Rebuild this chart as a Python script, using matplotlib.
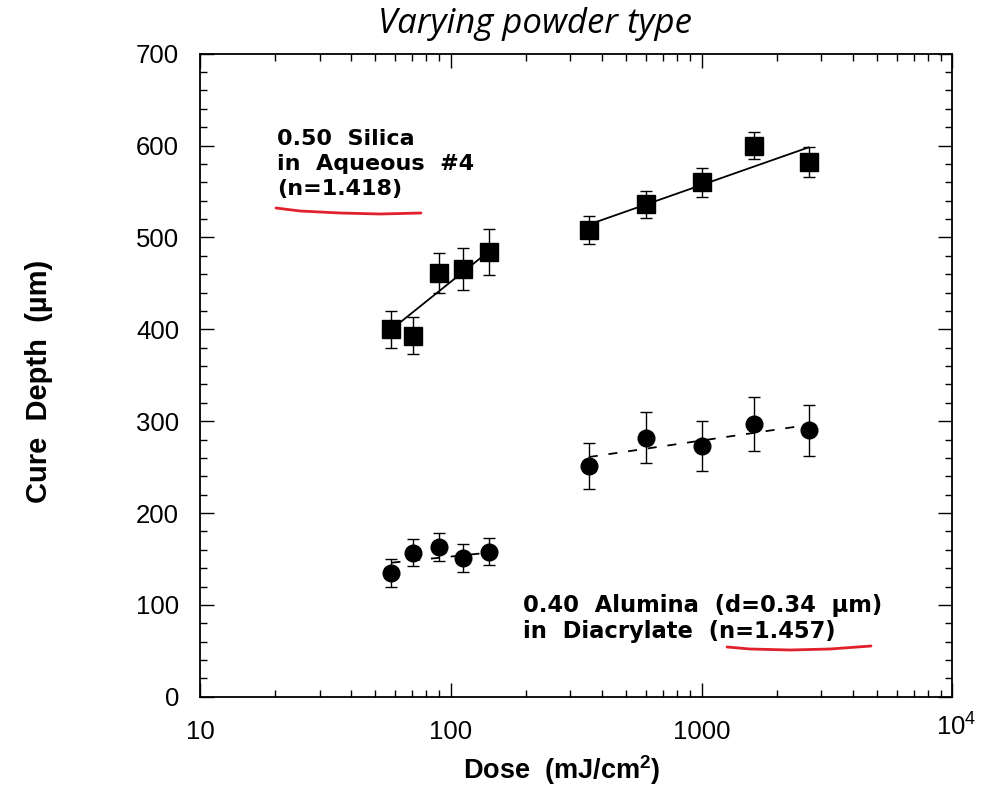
import numpy as np
import matplotlib
matplotlib.use('Agg')
import matplotlib.pyplot as plt
import matplotlib.transforms as mtransforms
from matplotlib.ticker import FixedLocator, FixedFormatter, MultipleLocator, NullFormatter

plt.rcParams['font.family'] = ['Liberation Sans', 'DejaVu Sans']
plt.rcParams['mathtext.fontset'] = 'custom'
plt.rcParams['mathtext.rm'] = 'Liberation Sans'
plt.rcParams['mathtext.bf'] = 'Liberation Sans:bold'

# doses (mJ/cm2)
dose_low = [58, 70.5, 90, 112, 142]
dose_high = [355, 598, 1000, 1625, 2670]

# 0.50 silica in aqueous #4 (squares)
silica_low = [400, 393, 461, 466, 484]
silica_low_err = [20, 20, 22, 23, 25]
silica_high = [508, 536, 560, 600, 582]
silica_high_err = [15, 15, 16, 15, 16]
silica_fit_low = [400, 485]
silica_fit_high = [514, 598]

# 0.40 alumina in diacrylate (circles)
alumina_low = [135, 157, 163, 151, 158]
alumina_low_err = [15, 15, 15, 15, 15]
alumina_high = [251, 282, 273, 297, 290]
alumina_high_err = [25, 28, 27, 29, 28]
alumina_fit_low = [146, 157]
alumina_fit_high = [261, 296]

xticks = [10, 100, 1000, 10000]
xticklabels = ['10', '100', '1000', '$10^4$']

fig = plt.figure(figsize=(9.9, 8.01), dpi=100)
ax = fig.add_axes([0.202, 0.130, 0.760, 0.803])

ekw = dict(fmt='none', ecolor='black', elinewidth=1.0, capsize=4, capthick=1.0)
ax.errorbar(dose_low, silica_low, yerr=silica_low_err, **ekw)
ax.errorbar(dose_high, silica_high, yerr=silica_high_err, **ekw)
ax.errorbar(dose_low, alumina_low, yerr=alumina_low_err, **ekw)
ax.errorbar(dose_high, alumina_high, yerr=alumina_high_err, **ekw)

ax.plot([dose_low[0], dose_low[-1]], silica_fit_low, color='black', lw=1.3)
ax.plot([dose_high[0], dose_high[-1]], silica_fit_high, color='black', lw=1.3)
ax.plot([dose_low[0], dose_low[-1]], alumina_fit_low, color='black', lw=1.3, ls=(0, (5, 6)))
ax.plot([dose_high[0], dose_high[-1]], alumina_fit_high, color='black', lw=1.3, ls=(0, (5, 6)))

ax.plot(dose_low + dose_high, silica_low + silica_high, 's', color='black', ms=12.5)
ax.plot(dose_low + dose_high, alumina_low + alumina_high, 'o', color='black', ms=12)

ax.set_xscale('log')
ax.set_xlim(10, 10000)
ax.set_ylim(0, 700)
ax.xaxis.set_major_locator(FixedLocator(xticks))
ax.xaxis.set_major_formatter(FixedFormatter(xticklabels))
ax.xaxis.set_minor_formatter(NullFormatter())
ax.yaxis.set_major_locator(MultipleLocator(100))
ax.yaxis.set_minor_locator(MultipleLocator(20))
ax.tick_params(which='both', direction='in', top=True, right=True, width=1.0)
ax.tick_params(which='major', length=10, labelsize=18.5)
ax.tick_params(which='minor', length=5)
ax.tick_params(axis='x', pad=17)
ax.tick_params(axis='y', pad=15)
for s in ax.spines.values():
    s.set_linewidth(1.3)

ax.set_ylabel('Cure  Depth  (\u00b5m)', fontsize=21, fontweight='bold')
ax.yaxis.set_label_coords(-0.195, 0.49)
ax.set_xlabel('Dose  (mJ/cm$^\\mathbf{2}$)', fontsize=19.5, fontweight='bold')
ax.xaxis.set_label_coords(0.481, -0.088)

ax.text(20.3, 618, '0.50  Silica\nin  Aqueous  #4\n(n=1.418)', fontsize=16,
        fontweight='bold', family='DejaVu Sans', va='top', ha='left', linespacing=1.32)
ax.text(194, 112, '0.40  Alumina  (d=0.34  \u00b5m)\nin  Diacrylate  (n=1.457)', fontsize=16.3,
        fontweight='bold', family='DejaVu Sans', va='top', ha='left', linespacing=1.15)

fig.text(0.540, 1 - 33 / 801, 'Varying powder type', fontsize=25, style='italic',
         family='Open Sans', ha='center', va='baseline')

# hand-drawn red underlines (figure pixel coords)
u1x = [276, 300, 340, 380, 421]
u1y = [208, 211, 213, 214, 213]
u2x = [727, 750, 790, 830, 871]
u2y = [647, 649, 650, 649, 646]
for ux, uy in [(u1x, u1y), (u2x, u2y)]:
    fig.add_artist(plt.Line2D(np.array(ux) / 990, 1 - np.array(uy) / 801,
                              color='#e0202a', lw=2.0, solid_capstyle='round'))

# the 10^4 label sits a little higher and to the right in the original
fig.canvas.draw()
lab = ax.xaxis.get_major_ticks()[-1].label1
lab.set_transform(lab.get_transform() +
                  mtransforms.ScaledTranslation(4 / 100, 9 / 100, fig.dpi_scale_trans))

fig.savefig('out.png', dpi=100)
